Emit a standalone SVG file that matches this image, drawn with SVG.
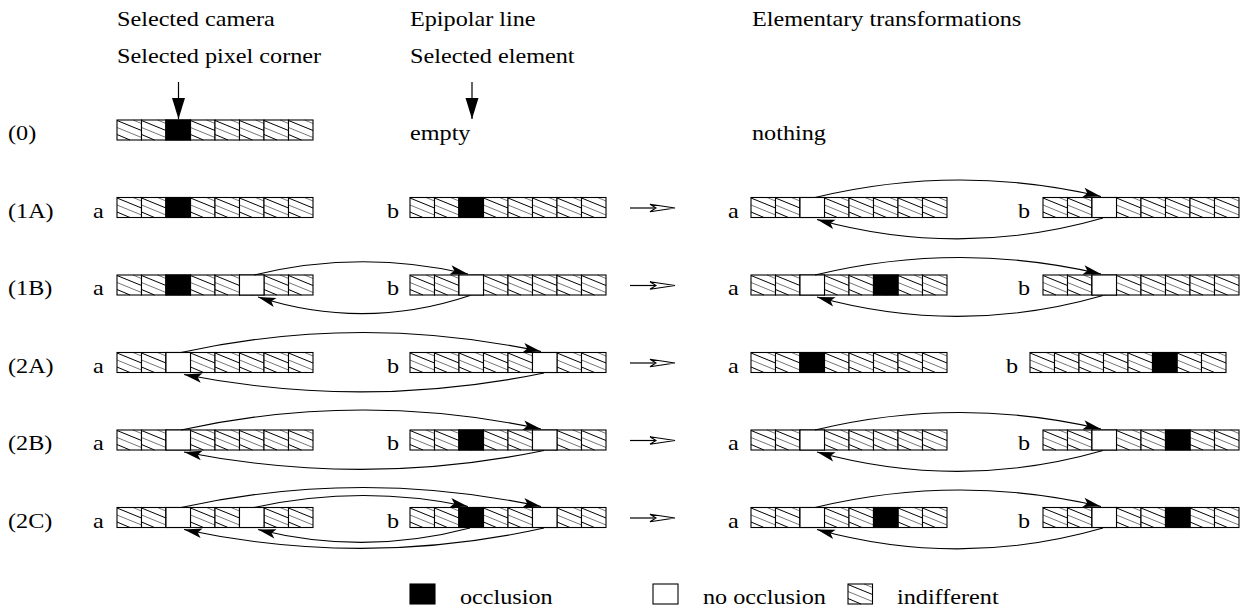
<svg xmlns="http://www.w3.org/2000/svg" xmlns:xlink="http://www.w3.org/1999/xlink" width="1244" height="609" viewBox="0 0 1244 609">
<style>
text{font-family:"Liberation Serif","Times New Roman","DejaVu Serif",serif;font-size:22px;fill:#000}
.cb{fill:none;stroke:#000;stroke-width:1.1}
.hk{stroke:#000;stroke-width:1}
.hg{stroke:#777;stroke-width:1}
.k{fill:#000;stroke:#000;stroke-width:1.1}
.w{fill:#fff;stroke:#000;stroke-width:1.1}
.arc{fill:none;stroke:#000;stroke-width:1.1;marker-end:url(#ah)}
.sh{fill:none;stroke:#000;stroke-width:1.2}
</style>
<defs>
<g id="H">
<rect width="24.5" height="20" fill="#fff"/>
<line class="hk" x1="0" y1="0.5" x2="24.5" y2="10.5"/>
<line class="hg" x1="0" y1="7.5" x2="24.5" y2="17.5"/>
<line class="hg" x1="16" y1="0" x2="24.5" y2="3.5"/>
<line class="hk" x1="0" y1="14.5" x2="13" y2="20"/>
<rect class="cb" width="24.5" height="20"/>
</g>
<g id="S">
<use xlink:href="#H"/><use xlink:href="#H" x="24.5"/><use xlink:href="#H" x="49"/><use xlink:href="#H" x="73.5"/>
<use xlink:href="#H" x="98"/><use xlink:href="#H" x="122.5"/><use xlink:href="#H" x="147"/><use xlink:href="#H" x="171.5"/>
</g>
<marker id="ah" markerUnits="userSpaceOnUse" markerWidth="20" markerHeight="12" viewBox="-19 -6 20 12" refX="0" refY="0" orient="auto">
<path d="M0,0 L-18,-4.8 L-14,0 L-18,4.8 Z" fill="#000"/>
</marker>
<marker id="dn" markerUnits="userSpaceOnUse" markerWidth="23" markerHeight="16" viewBox="-22 -8 23 16" refX="0" refY="0" orient="auto">
<path d="M0,0 L-21,-6.5 L-21,6.5 Z" fill="#000"/>
</marker>
</defs>

<g id="headers">
<text transform="translate(117,26) scale(1.1,1)">Selected camera</text>
<text transform="translate(117,63) scale(1.1,1)">Selected pixel corner</text>
<text transform="translate(410,26) scale(1.1,1)">Epipolar line</text>
<text transform="translate(410,63) scale(1.1,1)">Selected element</text>
<text transform="translate(752,26) scale(1.1,1)">Elementary transformations</text>
</g>

<g id="row0">
<text transform="translate(8,140) scale(1.1,1)">(0)</text>
<use xlink:href="#S" x="117" y="120"/>
<rect class="k" x="166" y="120" width="24.5" height="20"/>
<text transform="translate(410,140) scale(1.1,1)">empty</text>
<text transform="translate(752,140) scale(1.1,1)">nothing</text>
</g>

<g id="row1A">
<text transform="translate(8,217.5) scale(1.1,1)">(1A)</text>
<text transform="translate(93,217.5) scale(1.1,1)">a</text>
<use xlink:href="#S" x="117" y="197.5"/>
<rect class="k" x="166" y="197.5" width="24.5" height="20"/>
<text transform="translate(387,217.5) scale(1.1,1)">b</text>
<use xlink:href="#S" x="410" y="197.5"/>
<rect class="k" x="459" y="197.5" width="24.5" height="20"/>
<text transform="translate(728,217.5) scale(1.1,1)">a</text>
<use xlink:href="#S" x="751" y="197.5"/>
<rect class="w" x="800" y="197.5" width="24.5" height="20"/>
<text transform="translate(1018,217.5) scale(1.1,1)">b</text>
<use xlink:href="#S" x="1043" y="197.5"/>
<rect class="w" x="1092" y="197.5" width="24.5" height="20"/>
</g>

<g id="row1B">
<text transform="translate(8,295) scale(1.1,1)">(1B)</text>
<text transform="translate(93,295) scale(1.1,1)">a</text>
<use xlink:href="#S" x="117" y="275"/>
<rect class="k" x="166" y="275" width="24.5" height="20"/>
<rect class="w" x="239.5" y="275" width="24.5" height="20"/>
<text transform="translate(387,295) scale(1.1,1)">b</text>
<use xlink:href="#S" x="410" y="275"/>
<rect class="w" x="459" y="275" width="24.5" height="20"/>
<text transform="translate(728,295) scale(1.1,1)">a</text>
<use xlink:href="#S" x="751" y="275"/>
<rect class="w" x="800" y="275" width="24.5" height="20"/>
<rect class="k" x="873.5" y="275" width="24.5" height="20"/>
<text transform="translate(1018,295) scale(1.1,1)">b</text>
<use xlink:href="#S" x="1043" y="275"/>
<rect class="w" x="1092" y="275" width="24.5" height="20"/>
</g>

<g id="row2A">
<text transform="translate(8,372.5) scale(1.1,1)">(2A)</text>
<text transform="translate(93,372.5) scale(1.1,1)">a</text>
<use xlink:href="#S" x="117" y="352.5"/>
<rect class="w" x="166" y="352.5" width="24.5" height="20"/>
<text transform="translate(387,372.5) scale(1.1,1)">b</text>
<use xlink:href="#S" x="410" y="352.5"/>
<rect class="w" x="532.5" y="352.5" width="24.5" height="20"/>
<text transform="translate(728,372.5) scale(1.1,1)">a</text>
<use xlink:href="#S" x="751" y="352.5"/>
<rect class="k" x="800" y="352.5" width="24.5" height="20"/>
<text transform="translate(1006,372.5) scale(1.1,1)">b</text>
<use xlink:href="#S" x="1030" y="352.5"/>
<rect class="k" x="1152.5" y="352.5" width="24.5" height="20"/>
</g>

<g id="row2B">
<text transform="translate(8,450) scale(1.1,1)">(2B)</text>
<text transform="translate(93,450) scale(1.1,1)">a</text>
<use xlink:href="#S" x="117" y="430"/>
<rect class="w" x="166" y="430" width="24.5" height="20"/>
<text transform="translate(387,450) scale(1.1,1)">b</text>
<use xlink:href="#S" x="410" y="430"/>
<rect class="k" x="459" y="430" width="24.5" height="20"/>
<rect class="w" x="532.5" y="430" width="24.5" height="20"/>
<text transform="translate(728,450) scale(1.1,1)">a</text>
<use xlink:href="#S" x="751" y="430"/>
<rect class="w" x="800" y="430" width="24.5" height="20"/>
<text transform="translate(1018,450) scale(1.1,1)">b</text>
<use xlink:href="#S" x="1043" y="430"/>
<rect class="w" x="1092" y="430" width="24.5" height="20"/>
<rect class="k" x="1165.5" y="430" width="24.5" height="20"/>
</g>

<g id="row2C">
<text transform="translate(8,527.5) scale(1.1,1)">(2C)</text>
<text transform="translate(93,527.5) scale(1.1,1)">a</text>
<use xlink:href="#S" x="117" y="507.5"/>
<rect class="w" x="166" y="507.5" width="24.5" height="20"/>
<rect class="w" x="239.5" y="507.5" width="24.5" height="20"/>
<text transform="translate(387,527.5) scale(1.1,1)">b</text>
<use xlink:href="#S" x="410" y="507.5"/>
<rect class="k" x="459" y="507.5" width="24.5" height="20"/>
<rect class="w" x="532.5" y="507.5" width="24.5" height="20"/>
<text transform="translate(728,527.5) scale(1.1,1)">a</text>
<use xlink:href="#S" x="751" y="507.5"/>
<rect class="w" x="800" y="507.5" width="24.5" height="20"/>
<rect class="k" x="873.5" y="507.5" width="24.5" height="20"/>
<text transform="translate(1018,527.5) scale(1.1,1)">b</text>
<use xlink:href="#S" x="1043" y="507.5"/>
<rect class="w" x="1092" y="507.5" width="24.5" height="20"/>
<rect class="k" x="1165.5" y="507.5" width="24.5" height="20"/>
</g>

<g id="legend">
<rect class="k" x="410" y="584" width="25" height="20"/>
<text transform="translate(460,604) scale(1.1,1)">occlusion</text>
<rect class="w" x="653" y="584" width="25" height="20"/>
<text transform="translate(703,604) scale(1.1,1)">no occlusion</text>
<use xlink:href="#H" x="848" y="584"/>
<text transform="translate(897,604) scale(1.1,1)">indifferent</text>
</g>

<g id="connectors">
<line class="sh" x1="178.5" y1="82" x2="178.5" y2="119" marker-end="url(#dn)"/>
<line class="sh" x1="472" y1="82" x2="472" y2="119" marker-end="url(#dn)"/>
<g id="tr-arrows">
<g transform="translate(0,208)"><line class="sh" x1="630" y1="0" x2="656" y2="0"/><path d="M650,-3.8 L675,0 L650,3.8 L656,0 Z" fill="#fff" stroke="#000" stroke-width="1.1"/></g>
<g transform="translate(0,285.5)"><line class="sh" x1="630" y1="0" x2="656" y2="0"/><path d="M650,-3.8 L675,0 L650,3.8 L656,0 Z" fill="#fff" stroke="#000" stroke-width="1.1"/></g>
<g transform="translate(0,363)"><line class="sh" x1="630" y1="0" x2="656" y2="0"/><path d="M650,-3.8 L675,0 L650,3.8 L656,0 Z" fill="#fff" stroke="#000" stroke-width="1.1"/></g>
<g transform="translate(0,440.5)"><line class="sh" x1="630" y1="0" x2="656" y2="0"/><path d="M650,-3.8 L675,0 L650,3.8 L656,0 Z" fill="#fff" stroke="#000" stroke-width="1.1"/></g>
<g transform="translate(0,518)"><line class="sh" x1="630" y1="0" x2="656" y2="0"/><path d="M650,-3.8 L675,0 L650,3.8 L656,0 Z" fill="#fff" stroke="#000" stroke-width="1.1"/></g>
</g>
<!-- 1A right -->
<path class="arc" d="M815,197.5 Q958,163 1101,196.5"/>
<path class="arc" d="M1103,218 Q960,259 817,219.5"/>
<!-- 1B left -->
<path class="arc" d="M254,275 Q361,249 468,274"/>
<path class="arc" d="M470,295.5 Q364,331 258,297"/>
<!-- 1B right -->
<path class="arc" d="M815,275 Q958,240.5 1101,274"/>
<path class="arc" d="M1103,295.5 Q960,336.5 817,297"/>
<!-- 2A left -->
<path class="arc" d="M181,352.5 Q361,313 541,351.5"/>
<path class="arc" d="M544,373 Q364,410 184,374.5"/>
<!-- 2B left -->
<path class="arc" d="M181,430 Q361,390.5 541,429"/>
<path class="arc" d="M544,450.5 Q364,487.5 184,452"/>
<!-- 2B right -->
<path class="arc" d="M815,430 Q958,395.5 1101,429"/>
<path class="arc" d="M1103,450.5 Q960,491.5 817,452"/>
<!-- 2C left outer -->
<path class="arc" d="M181,507.5 Q361,468 541,506.5"/>
<path class="arc" d="M544,528 Q364,568 184,529.5"/>
<!-- 2C left inner -->
<path class="arc" d="M254,507.5 Q361,484 468,506.5"/>
<path class="arc" d="M470,528 Q364,556 258,529.5"/>
<!-- 2C right -->
<path class="arc" d="M815,507.5 Q958,473 1101,506.5"/>
<path class="arc" d="M1103,528 Q960,569 817,529.5"/>
</g>
</svg>
